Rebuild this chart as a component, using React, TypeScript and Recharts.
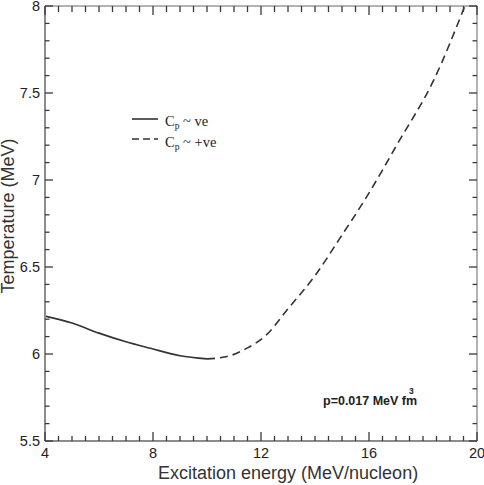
import { LineChart, Line, XAxis, YAxis, Customized } from 'recharts'

// solid branch: Cp negative
const solidEnergy = [4, 5, 6, 7, 7.9, 9, 10]
const solidTemp = [6.218, 6.178, 6.12, 6.07, 6.033, 5.99, 5.972]

// dashed branch: Cp positive
const dashedEnergy = [10, 10.7, 11.5, 12.2, 13, 14, 14.9, 15.9, 17.1, 18.4, 19.55]
const dashedTemp = [5.972, 5.984, 6.035, 6.11, 6.26, 6.45, 6.66, 6.9, 7.22, 7.575, 8.0]

const xMajor = [4, 8, 12, 16, 20]
const yMajor = [5.5, 6, 6.5, 7, 7.5, 8]
const xTicks = Array.from({ length: 33 }, (_, i) => 4 + i * 0.5)
const yTicks = Array.from({ length: 26 }, (_, i) => Math.round((5.5 + i * 0.1) * 10) / 10)

const solidData = solidEnergy.map((x, i) => ({ x, t: solidTemp[i] }))
const dashedData = dashedEnergy.map((x, i) => ({ x, t: dashedTemp[i] }))

const TICK = '#3a3a3a'
const INK = '#222'

const isMajorX = (v: number) => xMajor.includes(v)
const isMajorY = (v: number) => yMajor.some((m) => Math.abs(m - v) < 1e-6)

const bottomTick = (props: any) => {
  const { x, y, payload } = props
  const major = isMajorX(payload.value)
  return (
    <g>
      <line x1={x} x2={x} y1={y} y2={y - (major ? 9 : 5)} stroke={TICK} strokeWidth={1.3} />
      {major && (
        <text x={x} y={y + 17} textAnchor="middle" fontSize={14.5} fill={INK}>
          {payload.value}
        </text>
      )}
    </g>
  )
}
const topTick = (props: any) => {
  const { x, y, payload } = props
  return <line x1={x} x2={x} y1={y} y2={y + (isMajorX(payload.value) ? 9 : 6)} stroke={TICK} strokeWidth={1.3} />
}
const leftTick = (props: any) => {
  const { x, y, payload } = props
  const major = isMajorY(payload.value)
  return (
    <g>
      <line x1={x} x2={x + (major ? 8 : 4.5)} y1={y} y2={y} stroke={TICK} strokeWidth={1.3} />
      {major && (
        <text x={x - 5} y={y + 5.2} textAnchor="end" fontSize={14.5} fill={INK}>
          {String(payload.value)}
        </text>
      )}
    </g>
  )
}
const rightTick = (props: any) => {
  const { x, y, payload } = props
  return <line x1={x} x2={x - (isMajorY(payload.value) ? 8 : 4.5)} y1={y} y2={y} stroke={TICK} strokeWidth={1.3} />
}

// legend, pressure note and axis titles
const Annotations = () => (
  <g>
    <line x1={132} x2={158} y1={119} y2={119} stroke="#333" strokeWidth={1.6} />
    <text x={165} y={126} fontFamily="Liberation Serif" fontSize={14.5} fill={INK}>
      C<tspan fontSize={9.5} dy={3}>p</tspan>
      <tspan dy={-3}> ~ ve</tspan>
    </text>
    <line x1={132} x2={158} y1={139} y2={139} stroke="#333" strokeWidth={1.6} strokeDasharray="7 4" />
    <text x={165} y={146.5} fontFamily="Liberation Serif" fontSize={14.5} fill={INK}>
      C<tspan fontSize={9.5} dy={3}>p</tspan>
      <tspan dy={-3}> ~ +ve</tspan>
    </text>
    <text x={323} y={405} fontWeight="bold" fontSize={12.5} fill={INK}>
      p=0.017 MeV fm
    </text>
    <text x={409} y={394} fontWeight="bold" fontSize={8.5} fill={INK}>
      3
    </text>
    <text x={158} y={479} fontSize={18} fill="#333">
      Excitation energy (MeV/nucleon)
    </text>
    <text x={14} y={216} transform="rotate(-90, 14, 216)" textAnchor="middle" fontSize={18} fill="#333">
      Temperature (MeV)
    </text>
  </g>
)

export default function App() {
  return (
    <div
      style={{
        position: 'absolute',
        left: 0,
        top: 0,
        width: 484,
        height: 485,
        background: '#fff',
        fontFamily: 'Liberation Sans, Arial, sans-serif',
      }}
    >
      <LineChart width={484} height={485} margin={{ top: 5, right: 6, left: 0, bottom: 0 }}>
        <XAxis dataKey="x" type="number" domain={[4, 20]} ticks={xTicks} interval={0} height={44}
          tickSize={0} tickMargin={0} tickLine={false} tick={bottomTick}
          axisLine={{ stroke: '#8c8c8c', strokeWidth: 2 }} allowDataOverflow />
        <XAxis xAxisId="top" orientation="top" dataKey="x" type="number" domain={[4, 20]} ticks={xTicks} interval={0} height={1}
          tickSize={0} tickMargin={0} tickLine={false} tick={topTick} allowDataOverflow />
        <YAxis type="number" domain={[5.5, 8]} ticks={yTicks} interval={0} width={45}
          tickSize={0} tickMargin={0} tickLine={false} tick={leftTick}
          axisLine={{ stroke: '#8c8c8c', strokeWidth: 2 }} allowDataOverflow />
        <YAxis yAxisId="right" orientation="right" type="number" domain={[5.5, 8]} ticks={yTicks} interval={0} width={1}
          tickSize={0} tickMargin={0} tickLine={false} tick={rightTick} allowDataOverflow />
        <Line data={solidData} dataKey="t" type="monotone" stroke="#333" strokeWidth={1.6} dot={false} isAnimationActive={false} />
        {/* same domains as bottom/left; bound to top/right so the frame axes render */}
        <Line data={dashedData} xAxisId="top" yAxisId="right" dataKey="t" type="monotone" stroke="#333" strokeWidth={1.6}
          strokeDasharray="8 5" dot={false} isAnimationActive={false} />
        <Customized component={Annotations} />
      </LineChart>
    </div>
  )
}
